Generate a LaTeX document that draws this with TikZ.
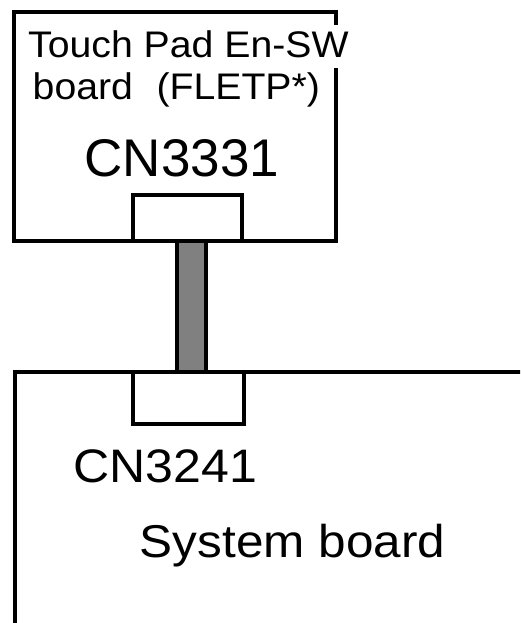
\documentclass[tikz,border=0pt]{standalone}
\usepackage{fontspec}
\setmainfont{Liberation Sans}
\definecolor{cablegray}{RGB}{128,128,128}
\newcommand{\wide}[2]{\scalebox{#1}[1]{#2}}
\begin{document}
\begin{tikzpicture}[x=1pt,y=-1pt,
  board/.style={draw=black,line width=4pt,fill=none,inner sep=0pt,outer sep=0pt},
  conn/.style={draw=black,line width=4pt,fill=white,inner sep=0pt,outer sep=0pt},
  cable/.style={draw=black,line width=4pt,fill=cablegray,inner sep=0pt,outer sep=0pt},
  lbl/.style={anchor=base west,inner sep=0pt,font=\fontsize{37}{40}\selectfont}]
\clip (0,0) rectangle (520,623);
\fill[white] (0,0) rectangle (520,623);
% cable
\node[cable,minimum width=29.5pt,minimum height=131pt] (cab) at (191.25,306.5) {};
% top board
\node[board,minimum width=322pt,minimum height=229pt] (tpb) at (175,126.5) {};
\node[lbl,fill=white,text height=33pt,text depth=10pt] (t1) at (28,58) {\wide{1.06}{Touch Pad En-SW}};
\node[lbl] (t2) at (32.5,99.5) {\wide{1.06}{board\hspace{0.6em}(FLETP*)}};
\node[lbl,font=\fontsize{53}{56}\selectfont] (t3) at (84.5,176) {CN3331};
\node[conn,minimum width=109.5pt,minimum height=46.5pt] (tcn) at (187.25,217.75) {};
% bottom board
\node[board,minimum width=540pt,minimum height=300pt] (sb) at (285,522) {};
\node[conn,minimum width=111pt,minimum height=51.5pt] (bcn) at (188.5,397.75) {};
\node[lbl,font=\fontsize{47}{50}\selectfont] (b1) at (73.5,482) {\wide{1.065}{CN3241}};
\node[lbl,font=\fontsize{46}{50}\selectfont] (b2) at (139.7,557) {\wide{1.076}{System board}};
\end{tikzpicture}
\end{document}
